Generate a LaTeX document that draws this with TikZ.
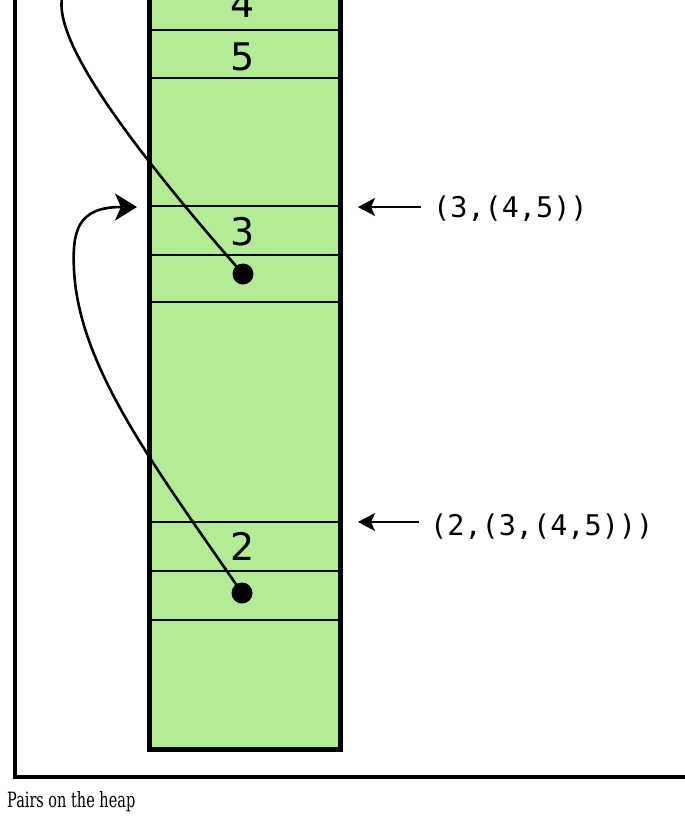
\documentclass[tikz,border=0pt]{standalone}
\usepackage{fontspec}
\newfontfamily\monof{DejaVu Sans Mono}
\newfontfamily\sansf{DejaVu Sans}
\newfontfamily\capf{DejaVu Serif}
\usetikzlibrary{arrows.meta}
\definecolor{heapgreen}{RGB}{179,236,150}
\begin{document}
\begin{tikzpicture}[x=1pt,y=-1pt,
  frameline/.style={line width=3.5pt},
  colborder/.style={line width=5pt, line join=miter, fill=heapgreen},
  cellline/.style={line width=2.6pt},
  numlabel/.style={anchor=base, inner sep=0pt, font=\sansf\fontsize{38}{38}\selectfont},
  ptrlabel/.style={anchor=base west, inner sep=0pt, font=\monof\fontsize{28.5}{30}\selectfont},
  dotnode/.style={circle, fill=black, inner sep=0pt, minimum size=21pt},
  link/.style={line width=2.6pt, line cap=round},
  ptrarrow/.style={line width=2pt, -{Stealth[length=17pt,width=18pt,inset=4pt]}},
  caption/.style={anchor=base west, inner sep=0pt, xscale=0.69, font=\capf\fontsize{21}{22}\selectfont}
]
\useasboundingbox (0,0) rectangle (685,817);
% outer frame
\draw[frameline] (15,-5) -- (15,777) -- (690,777);
% heap column
\draw[colborder] (149,-10) -- (149,749) -- (340,749) -- (340,-10);
\foreach \yy in {30,78,206,255,302,522,571,620}
  \draw[cellline] (149,\yy) -- (340,\yy);
% cell values
\node[numlabel] (v4) at (243,17) {4};
\node[numlabel] (v5) at (243,70) {5};
\node[numlabel] (v3) at (243,245) {3};
\node[numlabel] (v2) at (243,560) {2};
% pointer dots
\node[dotnode] (d1) at (243,274) {};
\node[dotnode] (d2) at (242,593) {};
% connector targets
\coordinate (top1) at (62,-2);
\coordinate (t2) at (137,207);
\coordinate (mid2) at (74,270);
% curves
\draw[link] (d1.center) .. controls (120,134) and (55,40) .. (top1);
\draw[link, -{Stealth[length=22pt,width=27pt,inset=6pt]}] (d2.center) .. controls (160,473) and (79,370) .. (mid2) .. controls (72,230) and (78,207) .. (t2);
% right labels
\node[ptrlabel] (p1) at (433,217) {(3,(4,5))};
\node[ptrlabel] (p2) at (430,535) {(2,(3,(4,5)))};
\coordinate (s1) at (421,207);
\coordinate (e1) at (358,207);
\coordinate (s2) at (419,522);
\coordinate (e2) at (358,522);
\draw[ptrarrow] (s1) -- (e1);
\draw[ptrarrow] (s2) -- (e2);
% caption
\node[caption] (cap) at (7,807) {Pairs on the heap};
\end{tikzpicture}
\end{document}
